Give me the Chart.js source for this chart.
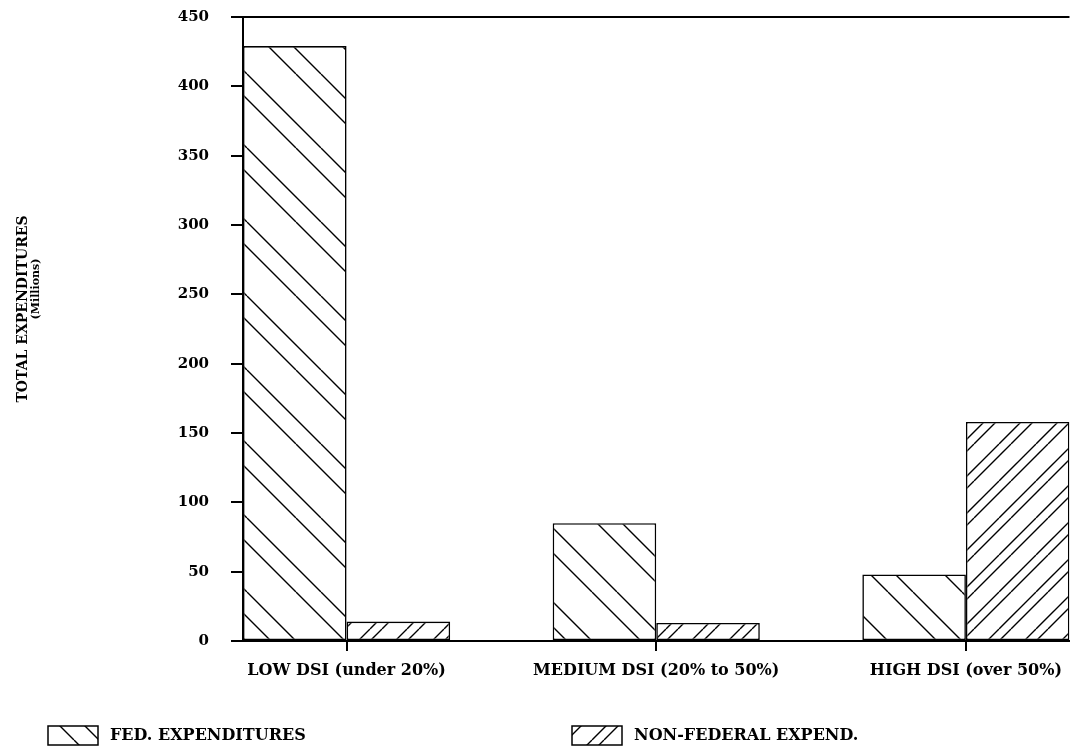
<!DOCTYPE html>
<html>
<head>
<meta charset="utf-8">
<script src="https://cdn.jsdelivr.net/npm/chart.js@4.4.0/dist/chart.umd.min.js"></script>
<style>
  html, body { margin: 0; padding: 0; background: #fff; overflow: hidden; }
  #wrap { width: 1072px; height: 747px; position: relative; }
</style>
</head>
<body>
<div id="wrap"><canvas id="chart"></canvas></div>
<script>
// values (millions)
const categories = ['LOW DSI (under 20%)', 'MEDIUM DSI (20% to 50%)', 'HIGH DSI (over 50%)'];
const fedExpenditures = [429, 85, 48];
const nonFedExpenditures = [14, 13, 158];
const seriesNames = ['FED. EXPENDITURES', 'NON-FEDERAL EXPEND.'];
const yTicks = [0, 50, 100, 150, 200, 250, 300, 350, 400, 450];

const FONT = '"DejaVu Serif", "Liberation Serif", serif';
const canvas = document.getElementById('chart');
const ctx0 = canvas.getContext('2d');

// diagonal hatch fill, lines in pairs like the printed original
function makeHatch(period, gap, dir) {
    const c = document.createElement('canvas');
    c.width = period;
    c.height = period;
    const g = c.getContext('2d');
    g.fillStyle = '#fff';
    g.fillRect(0, 0, period, period);
    g.strokeStyle = '#000';
    g.lineWidth = 1.4;
    g.beginPath();
    [0, gap].forEach(o => {
        for (let s = -period; s <= period; s += period) {
            if (dir === 'back') {
                g.moveTo(o + s, 0);
                g.lineTo(o + s + period, period);
            } else {
                g.moveTo(o + s, period);
                g.lineTo(o + s + period, 0);
            }
        }
    });
    g.stroke();
    return ctx0.createPattern(c, 'repeat');
}

const fedHatch = makeHatch(74, 25, 'back');
const nonFedHatch = makeHatch(37, 12, 'fwd');
const catPct = 0.669;

// y axis title, two lines in different sizes
const sideTitle = {
    id: 'sideTitle',
    afterDraw(chart) {
        const ctx = chart.ctx;
        ctx.save();
        ctx.fillStyle = '#000';
        ctx.textAlign = 'center';
        ctx.textBaseline = 'middle';
        ctx.translate(23, 309);
        ctx.rotate(-Math.PI / 2);
        ctx.font = 'bold 14px ' + FONT;
        ctx.fillText('TOTAL EXPENDITURES', 0, 0);
        ctx.font = 'bold 11px ' + FONT;
        ctx.fillText('(Millions)', 20, 13);
        ctx.restore();
    }
};

// legend spread out along the bottom
const bottomLegend = {
    id: 'bottomLegend',
    afterDraw(chart) {
        const ctx = chart.ctx;
        const spots = [48, 572];
        ctx.save();
        chart.data.datasets.forEach((ds, i) => {
            const x = spots[i];
            const y = 726;
            ctx.fillStyle = ds.backgroundColor;
            ctx.fillRect(x, y, 50, 19);
            ctx.strokeStyle = '#000';
            ctx.lineWidth = 1.5;
            ctx.strokeRect(x, y, 50, 19);
            ctx.fillStyle = '#000';
            ctx.font = 'bold 16px ' + FONT;
            ctx.textAlign = 'left';
            ctx.textBaseline = 'middle';
            ctx.fillText(ds.label, x + 62, y + 10);
        });
        ctx.restore();
    }
};

new Chart(canvas, {
    type: 'bar',
    data: {
        labels: categories,
        datasets: [{
            label: seriesNames[0],
            data: fedExpenditures,
            backgroundColor: fedHatch,
            borderColor: '#000',
            borderWidth: 1.6,
            borderSkipped: false
        }, {
            label: seriesNames[1],
            data: nonFedExpenditures,
            backgroundColor: nonFedHatch,
            borderColor: '#000',
            borderWidth: 1.6,
            borderSkipped: false
        }]
    },
    options: {
        responsive: true,
        maintainAspectRatio: false,
        animation: false,
        devicePixelRatio: 1,
        datasets: {
            bar: { categoryPercentage: catPct, barPercentage: 1.0 }
        },
        layout: { padding: { left: 0, top: 17, right: 0, bottom: 66 } },
        plugins: {
            legend: { display: false },
            tooltip: { enabled: false }
        },
        scales: {
            x: {
                offset: true,
                grid: {
                    offset: false,
                    drawOnChartArea: false,
                    drawTicks: true,
                    tickLength: 10,
                    color: '#000',
                    lineWidth: 2
                },
                border: { display: true, color: '#000', width: 2 },
                ticks: {
                    color: '#000',
                    padding: 10,
                    maxRotation: 0,
                    autoSkip: false,
                    font: { family: FONT, size: 16, weight: 'bold' }
                },
                // groups start right at the y axis and end at the right edge
                afterBuildTicks(axis) {
                    axis._startValue = -catPct / 2;
                    axis._valueRange = categories.length - 1 + catPct;
                },
                afterFit(axis) { axis.height = 40; }
            },
            y: {
                min: 0,
                max: 450,
                afterBuildTicks(axis) {
                    axis.ticks = yTicks.map(v => ({ value: v }));
                },
                grid: {
                    color: c => (c.tick && (c.tick.value === 0 || c.tick.value === 450)) ? '#000' : 'rgba(0,0,0,0)',
                    tickColor: '#000',
                    lineWidth: 2,
                    tickLength: 12
                },
                border: { display: true, color: '#000', width: 2 },
                ticks: {
                    color: '#000',
                    padding: 22,
                    font: { family: FONT, size: 15, weight: 'bold' }
                },
                afterFit(axis) {
                    axis.width = 243;
                    axis.paddingTop = 0;
                }
            }
        }
    },
    plugins: [sideTitle, bottomLegend]
});
</script>
</body>
</html>
